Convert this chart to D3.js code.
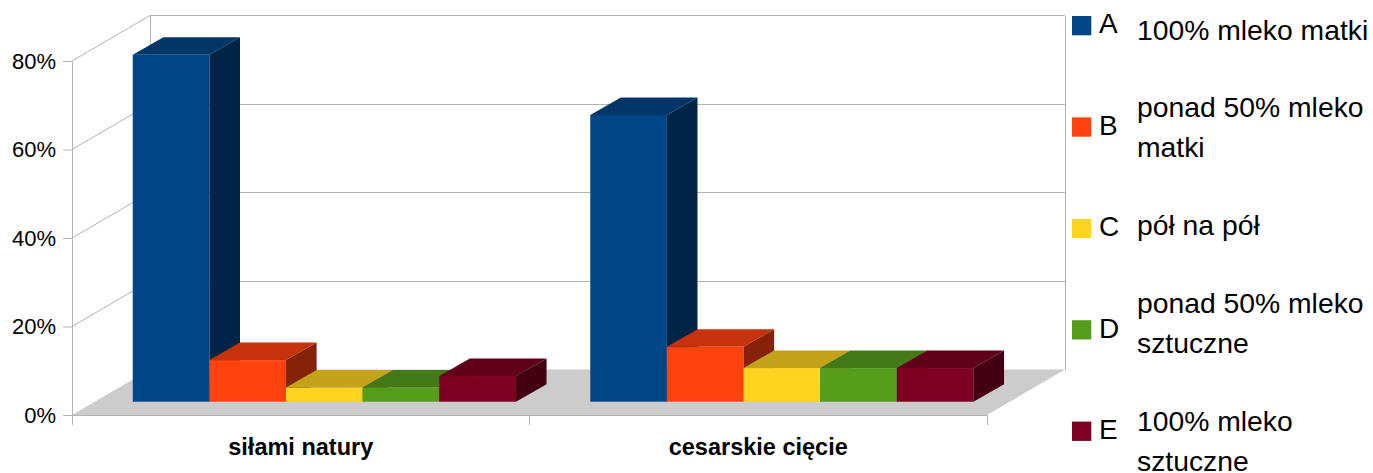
<!DOCTYPE html>
<html>
<head>
<meta charset="utf-8">
<script src="https://cdn.jsdelivr.net/npm/d3@7"></script>
<style>
  html, body { margin: 0; padding: 0; background: #ffffff; }
  svg { display: block; font-family: "Liberation Sans", Arial, sans-serif; }
</style>
</head>
<body>
<svg id="chart" width="1373" height="473"></svg>
<script>
// ---- data ----
const categories = ["siłami natury", "cesarskie cięcie"];
const seriesKeys = ["A", "B", "C", "D", "E"];
const seriesLabels = [
  ["100% mleko matki"],
  ["ponad 50% mleko", "matki"],
  ["pół na pół"],
  ["ponad 50% mleko", "sztuczne"],
  ["100% mleko", "sztuczne"]
];
const valuesNatural  = [78.4, 9.4, 3.2, 3.2, 5.8];   // %
const valuesCesarean = [64.8, 12.4, 7.6, 7.6, 7.6];  // %
const yTicks = [0, 20, 40, 60, 80];
const seriesColors = ["#004586", "#ff420e", "#ffd320", "#579d1c", "#7e0021"];

const seriesValues = [valuesNatural, valuesCesarean];

// ---- layout ----
const svg = d3.select("#chart");
const plot = { left: 72, right: 987, base: 415, top: 61 };
const wallDepth = { dx: 78, dy: -45.5 };     // offset from front plane to back wall
const barFront  = { dx: 23.6, dy: -13.3 };   // front plane of the bars
const barDepth  = { dx: 30.6, dy: -17.5 };   // thickness of each bar
const gridColor = "#b3b3b3";
const floorColor = "#cccccc";

const y = d3.scaleLinear().domain([0, 80]).range([plot.base, plot.top]);
const x = d3.scaleBand().domain(categories).range([plot.left, plot.right]);
const xs = d3.scaleBand().domain(seriesKeys).range([0, x.bandwidth()])
  .paddingInner(0).paddingOuter(0.485);

const shade = (c, k) => {
  const r = d3.rgb(c);
  return d3.rgb(r.r * k, r.g * k, r.b * k).formatHex();
};
const pts = arr => arr.map(p => p.join(",")).join(" ");

// ---- walls ----
const walls = svg.append("g").attr("stroke", gridColor).attr("stroke-width", 1)
  .attr("fill", "none").attr("shape-rendering", "crispEdges");

const backX0 = plot.left + wallDepth.dx, backX1 = plot.right + wallDepth.dx;

// back wall gridlines
walls.selectAll("line.back").data(yTicks.filter(t => t > 0)).join("line")
  .attr("class", "back")
  .attr("x1", backX0).attr("x2", backX1)
  .attr("y1", d => y(d) + wallDepth.dy).attr("y2", d => y(d) + wallDepth.dy);

// back wall vertical edges
walls.selectAll("line.edge").data([backX0, backX1]).join("line")
  .attr("class", "edge")
  .attr("x1", d => d).attr("x2", d => d)
  .attr("y1", y(80) + wallDepth.dy).attr("y2", y(0) + wallDepth.dy);

// left wall gridlines (diagonal)
svg.append("g").attr("stroke", gridColor).attr("stroke-width", 1)
  .selectAll("line").data(yTicks.filter(t => t > 0)).join("line")
  .attr("x1", plot.left).attr("y1", d => y(d))
  .attr("x2", backX0).attr("y2", d => y(d) + wallDepth.dy);

// floor
svg.append("polygon")
  .attr("points", pts([
    [plot.left, y(0)], [plot.right, y(0)],
    [backX1, y(0) + wallDepth.dy], [backX0, y(0) + wallDepth.dy]
  ]))
  .attr("fill", floorColor);

// ---- axes ----
const yAxis = d3.axisLeft(y).tickValues(yTicks)
  .tickFormat(d => d + "%").tickSize(9).tickSizeOuter(0).tickPadding(7);
const gy = svg.append("g").attr("transform", `translate(${plot.left},0)`).call(yAxis);
gy.select(".domain").attr("stroke", gridColor);
gy.selectAll(".tick line").attr("stroke", gridColor);
gy.selectAll(".tick text").attr("font-size", 22)
  .attr("font-family", "'Liberation Sans', Arial, sans-serif").attr("fill", "#000");

// x axis: baseline and ticks at the category boundaries
const xEdges = categories.map(c => x(c)).concat([plot.right]);
const gx = svg.append("g").attr("stroke", gridColor).attr("shape-rendering", "crispEdges");
gx.append("line").attr("x1", plot.left).attr("x2", plot.right)
  .attr("y1", y(0)).attr("y2", y(0));
gx.selectAll("line.tick").data(xEdges).join("line").attr("class", "tick")
  .attr("x1", d => d).attr("x2", d => d)
  .attr("y1", y(0)).attr("y2", y(0) + 10);

svg.append("g").selectAll("text").data(categories).join("text")
  .attr("x", d => x(d) + x.bandwidth() / 2)
  .attr("y", 455)
  .attr("text-anchor", "middle")
  .attr("font-weight", "bold")
  .attr("font-size", 23.5)
  .attr("fill", "#000")
  .text(d => d);

// ---- bars ----
const bars = svg.append("g");
categories.forEach((cat, ci) => {
  seriesKeys.forEach((key, si) => {
    const v = seriesValues[ci][si];
    const col = seriesColors[si];
    const x0 = x(cat) + xs(key) + barFront.dx;
    const w = xs.bandwidth();
    const yTop = y(v) + barFront.dy;
    const yBot = y(0) + barFront.dy;
    const g = bars.append("g");
    g.append("rect")
      .attr("x", x0).attr("y", yTop).attr("width", w).attr("height", yBot - yTop)
      .attr("fill", col);
    g.append("polygon")
      .attr("points", pts([
        [x0, yTop], [x0 + w, yTop],
        [x0 + w + barDepth.dx, yTop + barDepth.dy], [x0 + barDepth.dx, yTop + barDepth.dy]
      ]))
      .attr("fill", shade(col, 0.77));
    g.append("polygon")
      .attr("points", pts([
        [x0 + w, yTop], [x0 + w + barDepth.dx, yTop + barDepth.dy],
        [x0 + w + barDepth.dx, yBot + barDepth.dy], [x0 + w, yBot]
      ]))
      .attr("fill", shade(col, 0.52));
  });
});

// ---- legend ----
const legendSquare = { x: 1072, top: 16, step: 101.4, size: 19.3 };
const legendKeyX = 1099, legendTextX = 1137;
const legendTextBaselines = [40, 117, 235, 313, 431];
const legendLineHeight = 39.5;

const legend = svg.append("g");
seriesKeys.forEach((key, i) => {
  const top = legendSquare.top + i * legendSquare.step;
  legend.append("rect")
    .attr("x", legendSquare.x).attr("y", top)
    .attr("width", legendSquare.size).attr("height", legendSquare.size)
    .attr("fill", seriesColors[i]);
  legend.append("text")
    .attr("x", legendKeyX).attr("y", top + 17.3)
    .attr("font-size", 28).attr("fill", "#000")
    .text(key);
  const t = legend.append("text")
    .attr("x", legendTextX).attr("y", legendTextBaselines[i])
    .attr("font-size", 28.3).attr("fill", "#000");
  seriesLabels[i].forEach((line, li) => {
    t.append("tspan").attr("x", legendTextX)
      .attr("y", legendTextBaselines[i] + li * legendLineHeight)
      .text(line);
  });
});
</script>
</body>
</html>
